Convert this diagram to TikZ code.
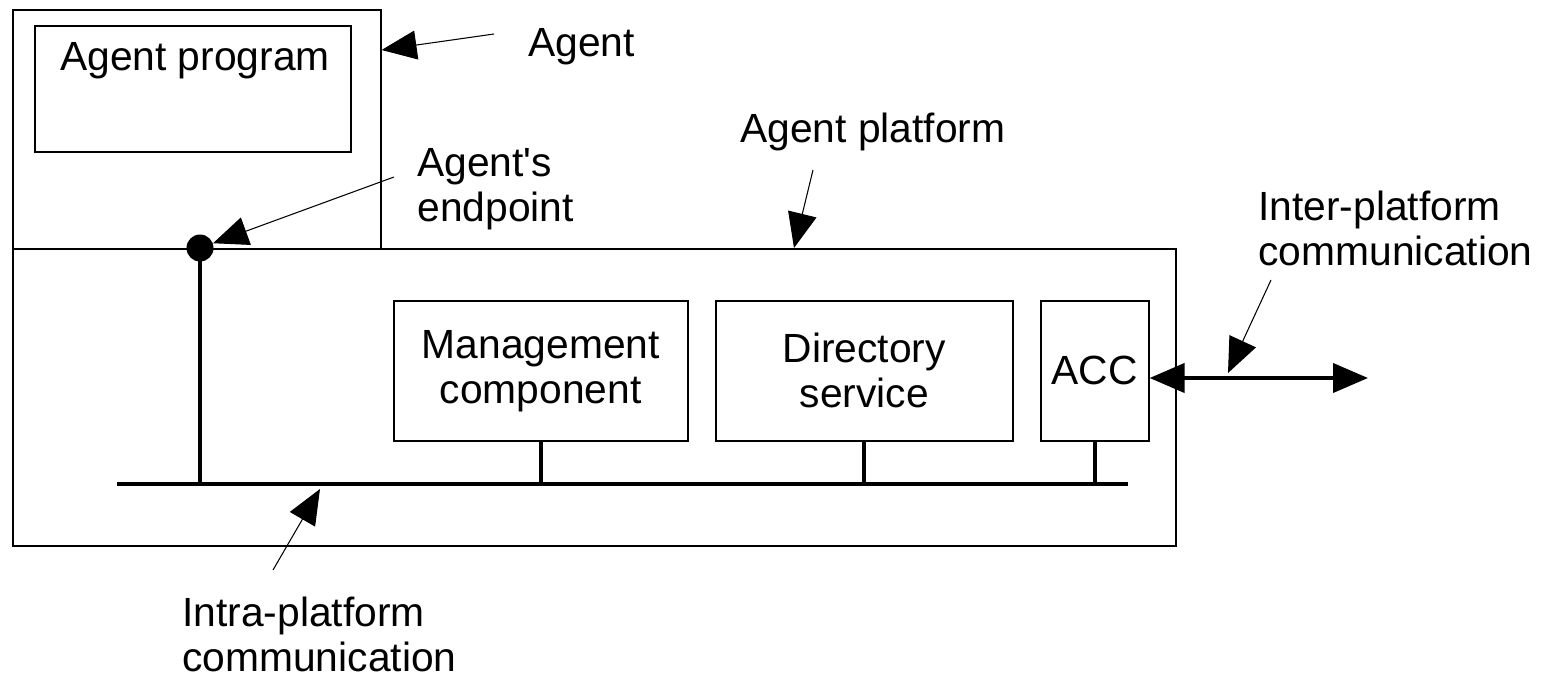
\documentclass[tikz,border=0pt]{standalone}
\usepackage{fontspec}
\setmainfont{Liberation Sans}
\usetikzlibrary{arrows.meta}
\tikzstyle{cadre} = [rectangle, draw=black, line width=0.9pt, inner sep=0pt, font=\fontsize{23.2}{25.6}\selectfont]
\tikzstyle{texte} = [inner sep=0pt, font=\fontsize{23.2}{25.6}\selectfont]
\tikzstyle{fleche} = [line width=0.6pt, -{Triangle[length=0.7cm, width=0.58cm]}]
\tikzstyle{bus} = [line width=2.3pt]
\tikzstyle{point} = [circle, fill=black, inner sep=0pt, minimum size=0.54cm]

\begin{document}
\begin{tikzpicture}
    \useasboundingbox (0,0) rectangle (30.82,-13.54);

    % agent
    \node [cadre, anchor=north west, minimum width=7.36cm, minimum height=4.78cm] (agent) at (0.24,-0.18) {};
    \node [cadre, anchor=north west, minimum width=6.32cm, minimum height=2.52cm] (programme) at (0.68,-0.5) {};
    \node [texte, anchor=base] (programmetxt) at (3.9,-1.42) {Agent program};

    % plate-forme
    \node [cadre, anchor=north west, minimum width=23.26cm, minimum height=5.94cm] (plateforme) at (0.24,-4.96) {};
    \node [cadre, anchor=north west, minimum width=5.88cm, minimum height=2.8cm, align=center] (gestion) at (7.86,-6.0) {Management\\component};
    \node [cadre, anchor=north west, minimum width=5.94cm, minimum height=2.8cm, align=center] (annuaire) at (14.3,-6.0) {Directory\\service};
    \node [cadre, anchor=north west, minimum width=2.16cm, minimum height=2.8cm] (acc) at (20.8,-6.0) {ACC};
    \node [point] (extremite) at (4.0,-4.96) {};

    % bus
    \coordinate (busgauche) at (2.34,-9.68);
    \coordinate (busdroite) at (22.56,-9.68);
    \draw[bus] (busgauche) -- (busdroite);
    \draw[bus] (extremite.center) -- (extremite.center |- busgauche);
    \draw[bus] (gestion.south) -- (gestion.south |- busgauche);
    \draw[bus] (annuaire.south) -- (annuaire.south |- busgauche);
    \draw[bus] (acc.south) -- (acc.south |- busgauche);

    \coordinate (exterieur) at (27.36,-7.56);
    \draw[bus, {Triangle[length=0.7cm, width=0.58cm]}-{Triangle[length=0.7cm, width=0.58cm]}] (acc.east |- exterieur) -- (exterieur);

    % legendes
    \node [texte, anchor=base west] (agenttxt) at (10.56,-1.14) {Agent};
    \coordinate (agentqueue) at (9.88,-0.68);
    \draw[fleche] (agentqueue) -- ([yshift=-0.82cm]agent.north east);

    \node [texte, anchor=base west, align=left] (extremitetxt) at (8.34,-4.42) {Agent\textquotesingle s\\endpoint};
    \coordinate (extremitequeue) at (7.88,-3.54);
    \draw[fleche] (extremitequeue) -- (extremite);

    \node [texte, anchor=base west] (plateformetxt) at (14.8,-2.86) {Agent platform};
    \coordinate (plateformequeue) at (16.26,-3.4);
    \draw[fleche] (plateformequeue) -- ([xshift=15.64cm]plateforme.north west);

    \node [texte, anchor=base west, align=left] (intertxt) at (25.16,-5.3) {Inter-platform\\communication};
    \coordinate (interqueue) at (25.42,-5.6);
    \coordinate (interpointe) at (24.56,-7.46);
    \draw[fleche] (interqueue) -- (interpointe);

    \node [texte, anchor=base west, align=left] (intratxt) at (3.64,-13.42) {Intra-platform\\communication};
    \coordinate (intraqueue) at (5.46,-11.4);
    \draw[fleche] (intraqueue) -- ([xshift=4.06cm, yshift=-0.1cm]busgauche);
\end{tikzpicture}
\end{document}
